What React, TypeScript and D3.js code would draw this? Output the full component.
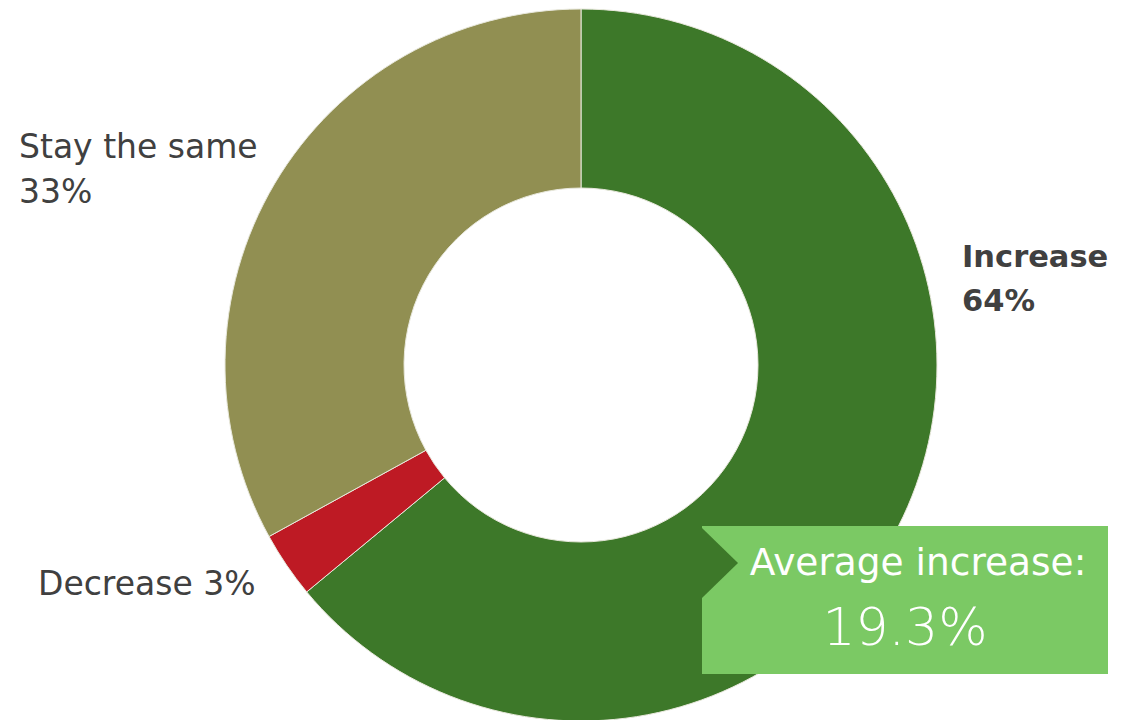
import React from "react";
import * as d3 from "d3";

const categories = ["Increase", "Decrease", "Stay the same"];
const values = [64, 3, 33];
const colors = ["#3d7829", "#be1a24", "#918f52"];
const avgLabel = "Average increase:";
const avgValue = "19.3%";

export default function App() {
  const W = 1133, H = 720;
  const cx = 581, cy = 365, rOuter = 356, rInner = 177;
  const pie = d3.pie<number>().sort(null).value((d) => d)(values);
  const arc = d3.arc<d3.PieArcDatum<number>>().innerRadius(rInner).outerRadius(rOuter);
  const font = "'DejaVu Sans', sans-serif";
  const textColor = "#404040";
  return (
    <svg width={W} height={H} style={{ position: "absolute", left: 0, top: 0 }}>
      <g transform={`translate(${cx},${cy})`}>
        {pie.map((p, i) => (
          <path key={i} d={arc(p) || ""} fill={colors[i]} stroke="#e8e8dc" strokeWidth={1} />
        ))}
      </g>
      <text x={962} y={267} fontFamily={font} fontSize={30.5} fontWeight={700} fill={textColor}>
        <tspan x={962}>{categories[0]}</tspan>
        <tspan x={962} dy={44}>{values[0]}%</tspan>
      </text>
      <text x={19} y={158} fontFamily={font} fontSize={33} fill={textColor}>
        <tspan x={19}>{categories[2]}</tspan>
        <tspan x={19} dy={45}>{values[2]}%</tspan>
      </text>
      <text x={38} y={595} fontFamily={font} fontSize={33} fill={textColor}>
        {categories[1]} {values[1]}%
      </text>
      <rect x={702} y={526} width={406} height={148} fill="#7bc964" />
      <path d="M702,528 L738,563 L702,598 Z" fill="#3d7829" />
      <text x={918} y={575} textAnchor="middle" fontFamily={font} fontSize={37.5} fill="#ffffff">
        {avgLabel}
      </text>
      <text x={905} y={645} textAnchor="middle" fontFamily={font} fontSize={52} fontWeight={200} fill="#ffffff">
        {avgValue}
      </text>
    </svg>
  );
}
